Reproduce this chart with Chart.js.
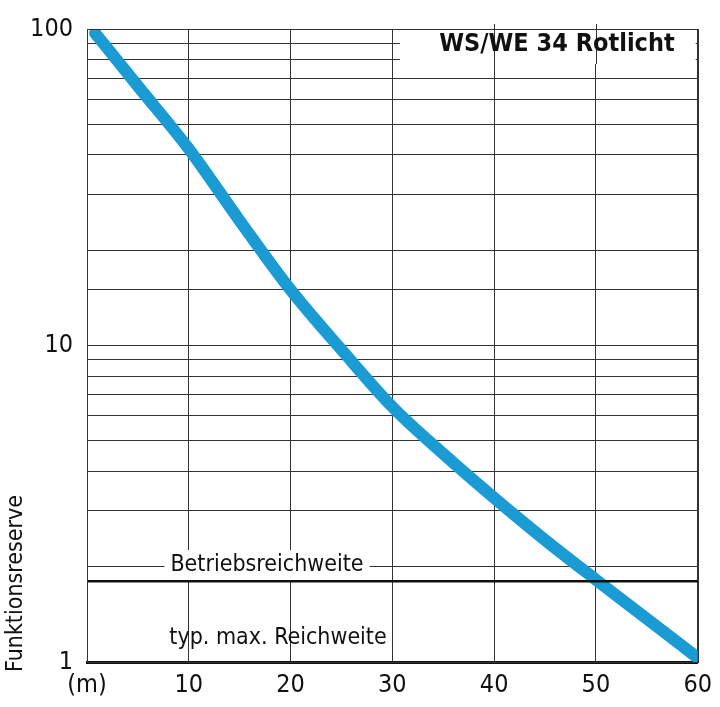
<!DOCTYPE html>
<html><head><meta charset="utf-8">
<script src="https://cdn.jsdelivr.net/npm/chart.js@4"></script>
<style>body{margin:0;background:#fff}#w{width:720px;height:707px}</style>
</head><body><div id="w"><canvas id="c"></canvas></div>
<script>
const distances=[0.8,5,10,15,20,25,30,35,40,45,50,55,60];
const reserve=[97,66,41.8,24.8,15,9.7,6.4,4.55,3.3,2.43,1.82,1.37,1.03];
const xTicks=[0,10,20,30,40,50,60];
const yLabels=[1,10,100];
const operatingLevel=1.8;
const F='"Liberation Sans Narrow","DejaVu Sans Condensed","Roboto Condensed","Roboto",sans-serif';
const deco={id:'deco',
 afterDatasetsDraw(ch){
  const c=ch.ctx,x=ch.scales.x,y=ch.scales.y,a=ch.chartArea;
  c.save();
  const yo=y.getPixelForValue(operatingLevel);
  c.strokeStyle='#111';c.lineWidth=2.5;
  c.beginPath();c.moveTo(a.left,yo);c.lineTo(a.right,yo);c.stroke();
  c.font='23px '+F;c.textAlign='center';c.textBaseline='middle';
  let t='Betriebsreichweite',w=c.measureText(t).width;
  c.fillStyle='#fff';c.fillRect(267-w/2-6,550,w+12,30);
  c.fillStyle='#111';c.fillText(t,267,565);
  c.fillText('typ. max. Reichweite',278,638);
  c.fillStyle='#fff';c.fillRect(400,24,a.right-402,40);
  c.strokeStyle='#333';c.lineWidth=1;
  [40,50].forEach(v=>{const px=Math.round(x.getPixelForValue(v))+0.5;c.beginPath();c.moveTo(px,24);c.lineTo(px,64);c.stroke();});
  c.strokeRect(Math.round(a.left)+0.5,Math.round(a.top)+0.5,Math.round(a.right-a.left),Math.round(a.bottom-a.top));
  c.font='bold 25px '+F;c.fillStyle='#111';
  c.fillText('WS/WE 34 Rotlicht',557,44);
  c.translate(16,672);c.rotate(-Math.PI/2);c.textAlign='left';
  c.font='23px '+F;c.fillText('Funktionsreserve',0,0);
  c.restore();
 }};
new Chart(document.getElementById('c'),{type:'line',
 data:{datasets:[{data:distances.map((d,i)=>({x:d,y:reserve[i]})),borderColor:'#1a9bd3',borderWidth:12,borderCapStyle:'round',pointRadius:0,cubicInterpolationMode:'monotone',fill:false}]},
 options:{responsive:true,maintainAspectRatio:false,animation:false,
  layout:{padding:{top:6,right:4,left:0,bottom:0}},
  plugins:{legend:{display:false},tooltip:{enabled:false}},
  scales:{
   x:{type:'linear',min:0,max:60,afterFit:s=>{s.height=45},
     afterBuildTicks:s=>{s.ticks=xTicks.map(v=>({value:v}))},
     grid:{color:'#333',lineWidth:1,drawTicks:false},border:{display:true,color:'#111',width:3},
     ticks:{padding:8,color:'#111',font:{family:F,size:25},callback:v=>v===0?'(m)':String(v)}},
   y:{type:'logarithmic',min:1,max:100,afterFit:s=>{s.width=87},
     grid:{color:'#333',lineWidth:1,drawTicks:false},border:{display:true,color:'#333',width:1},
     ticks:{padding:14,color:'#111',font:{family:F,size:25},autoSkip:false,
       callback:v=>yLabels.includes(v)?String(v):''}}
  }},
 plugins:[deco]});
</script></body></html>
